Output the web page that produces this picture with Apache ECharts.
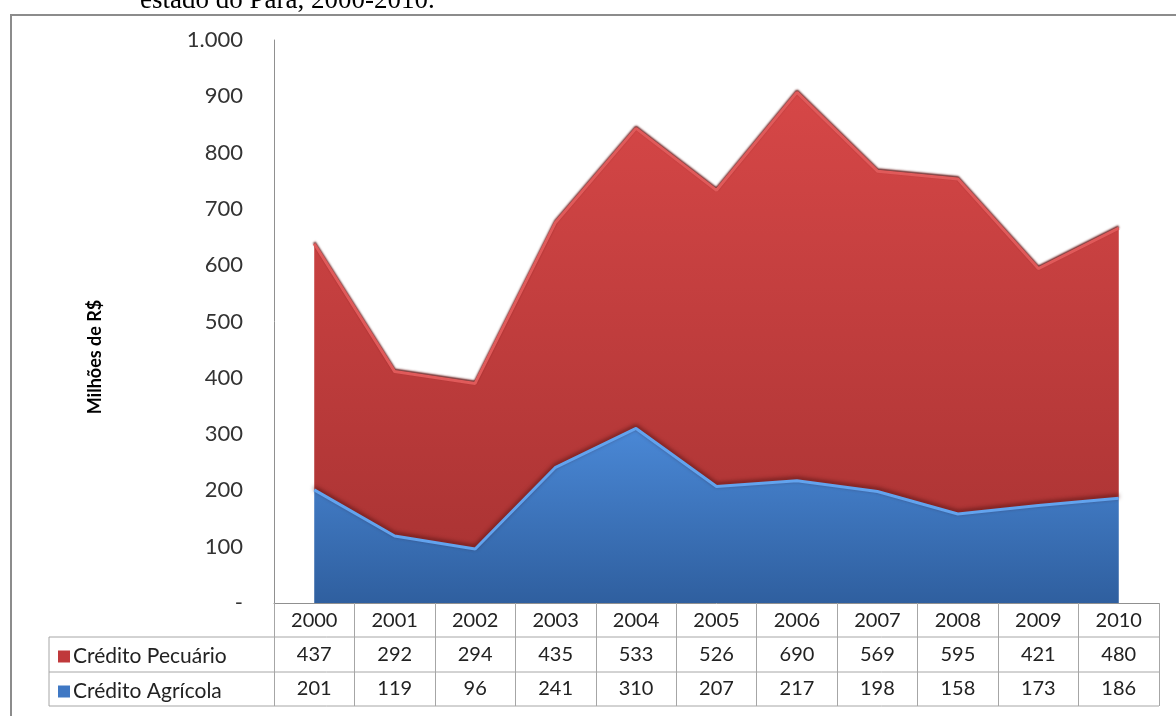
<!DOCTYPE html>
<html>
<head>
<meta charset="utf-8">
<script src="https://cdn.jsdelivr.net/npm/echarts@6/dist/echarts.min.js"></script>
<style>
  html, body { margin: 0; padding: 0; background: #fff; }
  #main { width: 1176px; height: 716px; }
</style>
</head>
<body>
<div id="main"></div>
<script>
const anos = ["2000", "2001", "2002", "2003", "2004", "2005", "2006", "2007", "2008", "2009", "2010"];
const pecuario = [437, 292, 294, 435, 533, 526, 690, 569, 595, 421, 480];
const agricola = [201, 119, 96, 241, 310, 207, 217, 198, 158, 173, 186];
const yTicks = { 0: "-", 1000: "1.000" };

const font = "Lato, 'Open Sans', sans-serif";
const chart = echarts.init(document.getElementById("main"));

const tableLine = "#a6a6a6";

const option = {
  animation: false,
  textStyle: { fontFamily: font },
  grid: { left: 274, right: 17, top: 40, bottom: 113 },
  legend: [
    {
      data: ["Crédito Pecuário"],
      left: 53, top: 641,
      icon: "rect", itemWidth: 12, itemHeight: 12, itemGap: 0,
      textStyle: { fontSize: 21, color: "#222", padding: [0, 0, 0, -2] }
    },
    {
      data: ["Crédito Agrícola"],
      left: 53, top: 676,
      icon: "rect", itemWidth: 12, itemHeight: 12, itemGap: 0,
      textStyle: { fontSize: 21, color: "#222", padding: [0, 0, 0, -2] }
    }
  ],
  xAxis: {
    type: "category",
    data: anos,
    boundaryGap: true,
    axisLine: { lineStyle: { color: "#909090", width: 1 } },
    axisTick: { show: true, interval: 0, length: 103, lineStyle: { color: tableLine } },
    axisLabel: {
      interval: 0,
      margin: 0,
      formatter: (v, i) => `{y|${v}}\n{v|${pecuario[i]}}\n{v|${agricola[i]}}`,
      rich: {
        y: { fontSize: 20, lineHeight: 34.2, color: "#222", fontFamily: font },
        v: { fontSize: 20, lineHeight: 34.2, color: "#222", fontFamily: font }
      }
    }
  },
  yAxis: {
    type: "value",
    min: 0, max: 1000, interval: 100,
    axisLine: { show: true, lineStyle: { color: "#909090" } },
    axisTick: { show: false },
    splitLine: { show: false },
    axisLabel: {
      margin: 31,
      fontSize: 22,
      color: "#333",
      formatter: v => yTicks[v] !== undefined ? yTicks[v] : String(v)
    }
  },
  series: [
    {
      name: "Crédito Agrícola",
      type: "line",
      stack: "total",
      data: agricola,
      symbol: "none",
      itemStyle: { color: "#3f78c4" },
      lineStyle: {
        color: "#62a3ee", width: 3,
        shadowColor: "rgba(60,10,10,0.7)", shadowBlur: 4, shadowOffsetY: -2
      },
      areaStyle: {
        opacity: 1,
        color: new echarts.graphic.LinearGradient(0, 0, 0, 1, [
          { offset: 0, color: "#4a88d6" },
          { offset: 1, color: "#2f5f9f" }
        ])
      },
      z: 3
    },
    {
      name: "Crédito Pecuário",
      type: "line",
      stack: "total",
      data: pecuario,
      symbol: "none",
      itemStyle: { color: "#c0393b" },
      lineStyle: {
        color: "#e05a5a", width: 3,
        shadowColor: "rgba(90,10,10,0.9)", shadowBlur: 2, shadowOffsetY: -1.5
      },
      areaStyle: {
        opacity: 1,
        color: new echarts.graphic.LinearGradient(0, 0, 0, 1, [
          { offset: 0, color: "#d64747" },
          { offset: 1, color: "#ac3434" }
        ])
      },
      z: 2
    }
  ],
  graphic: [
    {
      type: "text",
      left: 140, top: -13,
      style: { text: "estado do Pará, 2000-2010.", font: "27px 'Liberation Serif', serif", fill: "#000" }
    },
    {
      type: "text",
      x: 95, y: 357,
      rotation: Math.PI / 2,
      style: {
        text: "Milhões de R$",
        font: "bold 18px Lato, sans-serif",
        fill: "#000",
        align: "center",
        verticalAlign: "middle"
      }
    },
    {
      type: "rect",
      shape: { x: 11, y: 15, width: 1200, height: 760 },
      style: { fill: "none", stroke: "#8c8c8c", lineWidth: 2 },
      silent: true
    },
    { type: "line", shape: { x1: 49, y1: 637, x2: 1159, y2: 637 }, style: { stroke: tableLine, lineWidth: 1 } },
    { type: "line", shape: { x1: 49, y1: 672, x2: 1159, y2: 672 }, style: { stroke: tableLine, lineWidth: 1 } },
    { type: "line", shape: { x1: 49, y1: 706, x2: 1159, y2: 706 }, style: { stroke: tableLine, lineWidth: 1 } },
    { type: "line", shape: { x1: 49, y1: 637, x2: 49, y2: 706 }, style: { stroke: tableLine, lineWidth: 1 } }
  ]
};

chart.setOption(option);
</script>
</body>
</html>
